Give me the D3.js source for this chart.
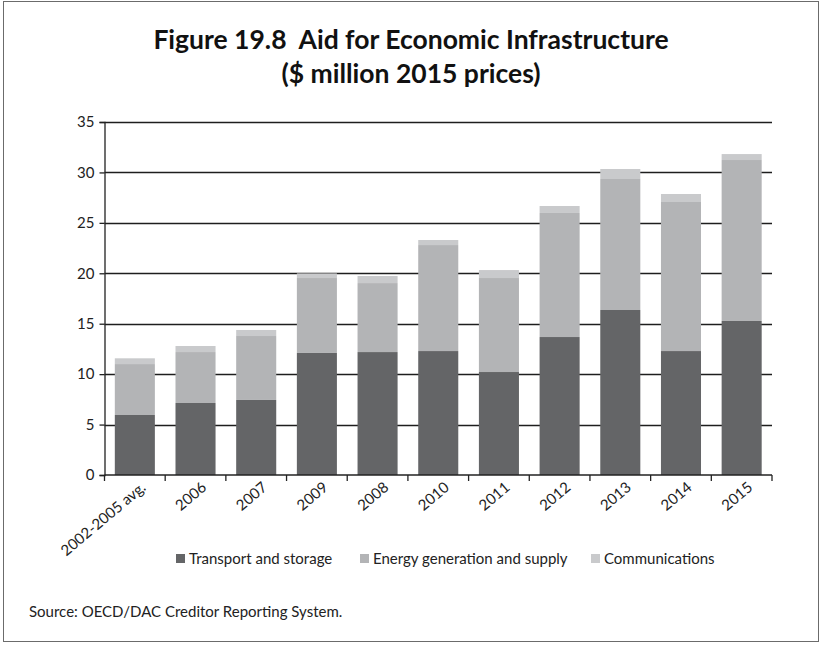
<!DOCTYPE html>
<html>
<head>
<meta charset="utf-8">
<script src="https://cdn.jsdelivr.net/npm/d3@7/dist/d3.min.js"></script>
<style>
  html, body { margin: 0; padding: 0; background: #fff; }
  svg { display: block; }
  text { font-family: Lato, "Open Sans", "Noto Sans", sans-serif; }
</style>
</head>
<body>
<svg id="chart" width="822" height="645"></svg>
<script>
// ---- data ----
const categories = ["2002-2005 avg.", "2006", "2007", "2009", "2008", "2010", "2011", "2012", "2013", "2014", "2015"];
const transport = [5.95, 7.14, 7.44, 12.1, 12.19, 12.29, 10.21, 13.68, 16.36, 12.29, 15.27];
const energy    = [5.05, 5.05, 6.34, 7.43, 6.84, 10.51, 9.32, 12.30, 12.99, 14.78, 15.96];
const comms     = [0.57, 0.60, 0.60, 0.46, 0.70, 0.50, 0.79, 0.69, 0.99, 0.79, 0.59];
const seriesNames = ["Transport and storage", "Energy generation and supply", "Communications"];
const seriesColors = ["#646567", "#b3b4b6", "#c9cacc"];
const yTicks = [0, 5, 10, 15, 20, 25, 30, 35];
const titleLines = ["Figure 19.8\u00a0 Aid for Economic Infrastructure", "($ million 2015 prices)"];
const sourceText = "Source: OECD/DAC Creditor Reporting System.";

// ---- layout ----
const svg = d3.select("#chart");
const plot = { left: 104.5, right: 772, top: 122, bottom: 475 };

// frame
svg.append("rect")
  .attr("x", 3.5).attr("y", 1.5).attr("width", 815).attr("height", 640)
  .attr("fill", "none").attr("stroke", "#6b6b6b").attr("stroke-width", 1);

// title
svg.append("text")
  .attr("x", 411).attr("y", 49)
  .attr("text-anchor", "middle")
  .attr("font-size", 26.5).attr("font-weight", 700).attr("fill", "#111")
  .text(titleLines[0]);
svg.append("text")
  .attr("x", 411).attr("y", 83)
  .attr("text-anchor", "middle")
  .attr("font-size", 26.5).attr("font-weight", 700).attr("fill", "#111")
  .text(titleLines[1]);

// scales
const x = d3.scaleBand().domain(categories).range([plot.left, plot.right])
  .paddingInner(0.34).paddingOuter(0.17);
const y = d3.scaleLinear().domain([0, 35]).range([plot.bottom, plot.top]);

// gridlines
svg.append("g").selectAll("line").data(yTicks.filter(d => d > 0)).join("line")
  .attr("x1", plot.left).attr("x2", plot.right)
  .attr("y1", d => Math.round(y(d)) + 0.5).attr("y2", d => Math.round(y(d)) + 0.5)
  .attr("stroke", "#1e1e1e").attr("stroke-width", 1.3);

// stacked bars
const rows = categories.map((c, i) => ({ cat: c, t: transport[i], e: energy[i], c: comms[i] }));
const stack = d3.stack().keys(["t", "e", "c"])(rows);
svg.append("g").selectAll("g").data(stack).join("g")
  .attr("fill", (d, i) => seriesColors[i])
  .selectAll("rect").data(d => d).join("rect")
  .attr("x", d => x(d.data.cat))
  .attr("width", x.bandwidth())
  .attr("y", d => y(d[1]))
  .attr("height", d => y(d[0]) - y(d[1]));

// y axis
const yAxis = d3.axisLeft(y).tickValues(yTicks).tickSize(5).tickPadding(5).tickFormat(d3.format("d"));
const gy = svg.append("g").attr("transform", `translate(${plot.left},0)`).call(yAxis);
gy.select(".domain").attr("stroke", "#222").attr("stroke-width", 1.3);
gy.selectAll(".tick line").attr("stroke", "#222").attr("stroke-width", 1.3);
gy.selectAll(".tick text").attr("font-size", 15).attr("fill", "#222")
  .style("font-family", "Lato, 'Open Sans', sans-serif");

// x axis (ticks at category boundaries)
const gx = svg.append("g").attr("transform", `translate(0,${plot.bottom})`);
gx.append("line").attr("x1", plot.left).attr("x2", plot.right)
  .attr("y1", 0).attr("y2", 0).attr("stroke", "#222").attr("stroke-width", 1.3);
const bounds = d3.range(categories.length + 1).map(i => plot.left + i * x.step());
gx.selectAll("line.b").data(bounds).join("line").attr("class", "b")
  .attr("x1", d => d).attr("x2", d => d).attr("y1", 0).attr("y2", 6)
  .attr("stroke", "#222").attr("stroke-width", 1.3);
gx.selectAll("text").data(categories).join("text")
  .attr("transform", d => `translate(${x(d) + x.bandwidth() / 2 + 12},${14}) rotate(-40)`)
  .attr("text-anchor", "end")
  .attr("font-size", 15).attr("fill", "#222")
  .text(d => d);

// legend
const legendItems = [
  { name: seriesNames[0], color: seriesColors[0], x: 176 },
  { name: seriesNames[1], color: seriesColors[1], x: 360 },
  { name: seriesNames[2], color: seriesColors[2], x: 591 }
];
const lg = svg.append("g");
legendItems.forEach(it => {
  lg.append("rect").attr("x", it.x).attr("y", 554).attr("width", 9).attr("height", 9).attr("fill", it.color);
  lg.append("text").attr("x", it.x + 13).attr("y", 563.5)
    .attr("font-size", 15).attr("fill", "#222").text(it.name);
});

// source
svg.append("text").attr("x", 29).attr("y", 617)
  .attr("font-size", 15).attr("fill", "#222").text(sourceText);
</script>
</body>
</html>
